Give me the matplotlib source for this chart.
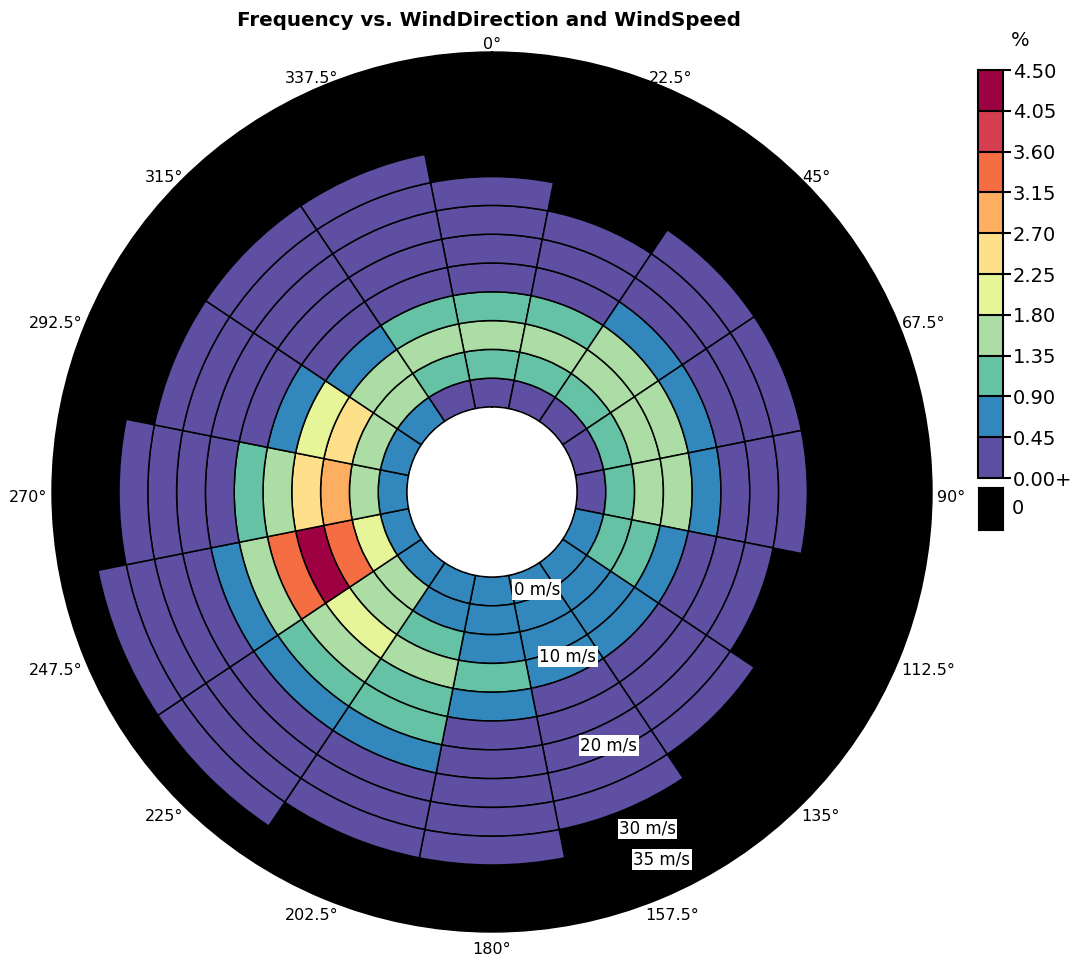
import numpy as np
import matplotlib
matplotlib.use("Agg")
import matplotlib.pyplot as plt
import matplotlib as mpl
from matplotlib.colors import ListedColormap, BoundaryNorm

plt.rcParams['font.family'] = ['DejaVu Sans']

# ---------------- data ----------------
directions = [0, 22.5, 45, 67.5, 90, 112.5, 135, 157.5,
              180, 202.5, 225, 247.5, 270, 292.5, 315, 337.5]
speed_step = 3.0  # m/s per ring

# frequency (%) per speed ring, from calm outwards, for each direction
freq_000 = [0.40, 1.05, 1.50, 1.00, 0.35, 0.20, 0.10, 0.04]
freq_022 = [0.38, 1.00, 1.45, 0.95, 0.30, 0.15, 0.05]
freq_045 = [0.40, 1.10, 1.55, 1.50, 0.70, 0.30, 0.12, 0.04]
freq_067 = [0.42, 1.15, 1.60, 1.55, 0.75, 0.35, 0.15, 0.05]
freq_090 = [0.40, 1.10, 1.55, 1.45, 0.70, 0.30, 0.12, 0.04]
freq_112 = [0.60, 1.00, 0.95, 0.60, 0.30, 0.12, 0.04]
freq_135 = [0.60, 0.70, 0.75, 0.55, 0.35, 0.20, 0.10, 0.04]
freq_157 = [0.60, 0.75, 0.80, 0.60, 0.40, 0.25, 0.15, 0.08, 0.03]
freq_180 = [0.60, 0.80, 0.85, 0.95, 0.70, 0.40, 0.25, 0.15, 0.08, 0.03]
freq_202 = [0.65, 0.85, 1.20, 1.50, 1.25, 1.00, 0.60, 0.30, 0.12, 0.04]
freq_225 = [0.70, 1.50, 1.75, 2.10, 1.60, 1.10, 0.65, 0.35, 0.20, 0.10, 0.04]
freq_247 = [0.80, 2.00, 3.40, 4.30, 3.30, 1.60, 0.70, 0.40, 0.20, 0.10, 0.04]
freq_270 = [0.80, 1.70, 2.90, 2.50, 1.60, 1.10, 0.40, 0.20, 0.10, 0.04]
freq_292 = [0.75, 1.60, 2.40, 2.00, 0.70, 0.35, 0.20, 0.10, 0.04]
freq_315 = [0.65, 1.50, 1.40, 0.65, 0.35, 0.20, 0.10, 0.06, 0.03]
freq_337 = [0.40, 1.00, 1.45, 1.00, 0.35, 0.20, 0.10, 0.05, 0.03]

freq_rows = [freq_000, freq_022, freq_045, freq_067, freq_090, freq_112,
             freq_135, freq_157, freq_180, freq_202, freq_225, freq_247,
             freq_270, freq_292, freq_315, freq_337]

level_bounds = [0.0, 0.45, 0.90, 1.35, 1.80, 2.25, 2.70, 3.15, 3.60, 4.05, 4.50]
level_labels = ['0.00+', '0.45', '0.90', '1.35', '1.80', '2.25',
                '2.70', '3.15', '3.60', '4.05', '4.50']
level_colors = ['#5E4FA2', '#3288BD', '#66C2A5', '#ABDDA4', '#E6F598',
                '#FEE08B', '#FDAE61', '#F46D43', '#D53E4F', '#9E0142']

direction_labels = [f"{d:g}°" for d in directions]
speed_label_values = [0, 10, 20, 30, 35]
speed_label_texts = ['0 m/s', '10 m/s', '20 m/s', '30 m/s', '35 m/s']
speed_label_shift = [2.3, 0.0, 0.2, -0.2, -1.7]

title = 'Frequency vs. WindDirection and WindSpeed'

# ---------------- figure ----------------
W, H = 1072, 960
fig = plt.figure(figsize=(W / 100, H / 100), dpi=100)
fig.patch.set_facecolor('white')

cx, cy, R = 492, 492, 440          # pixel centre / radius of the polar plot
px_per_unit = 9.6                 # pixels per m/s
hole = 85 / px_per_unit           # calm hole radius in m/s units
r_max = R / px_per_unit - hole

ax = fig.add_axes([(cx - R) / W, (H - cy - R) / H, 2 * R / W, 2 * R / H],
                  projection='polar')
ax.set_theta_zero_location('N')
ax.set_theta_direction(-1)
ax.set_rorigin(-hole)
ax.set_ylim(0, r_max)
ax.set_facecolor('black')
ax.grid(False)
ax.set_xticks([])
ax.set_yticks([])
for s in ax.spines.values():
    s.set_color('black')
    s.set_linewidth(1.0)

cmap = ListedColormap(level_colors)
norm = BoundaryNorm(level_bounds, cmap.N)
sector = np.deg2rad(22.5)

for d, vals in zip(directions, freq_rows):
    n = len(vals)
    bottoms = np.arange(n) * speed_step
    ax.bar(np.full(n, np.deg2rad(d)), np.full(n, speed_step), width=sector,
           bottom=bottoms, color=cmap(norm(vals)), edgecolor='black',
           linewidth=1.1, align='center')

# speed labels
for v, t, sh in zip(speed_label_values, speed_label_texts, speed_label_shift):
    ax.text(np.deg2rad(155.2), v + sh, t, ha='center', va='center',
            fontsize=12, color='black', clip_on=False, zorder=5,
            bbox=dict(boxstyle='square,pad=0.08', fc='white', ec='none'))

fig.text(489 / W, 1 - 20 / H, title, ha='center', va='center',
         fontsize=14.3, fontweight='bold')

# colour bar
cax = fig.add_axes([978 / W, (H - 478) / H, 25 / W, 408 / H])
cb = mpl.colorbar.ColorbarBase(cax, cmap=cmap, norm=norm,
                               boundaries=level_bounds, ticks=level_bounds,
                               drawedges=True, spacing='uniform')
cb.ax.set_yticklabels(level_labels)
cb.outline.set_linewidth(1.5)
cb.outline.set_edgecolor('black')
cb.dividers.set_linewidth(1.5)
cax.tick_params(length=6, width=1.5, labelsize=14, pad=1, colors='black')
fig.text(1020 / W, 1 - 41 / H, '%', ha='center', va='center', fontsize=14)

zax = fig.add_axes([978 / W, (H - 530) / H, 25 / W, 43 / H])
zax.set_facecolor('black')
zax.set_xticks([])
zax.set_yticks([])
fig.text(1012 / W, 1 - 508 / H, '0', ha='left', va='center', fontsize=14)

# direction labels, placed just outside the circle
fig.canvas.draw()
renderer = fig.canvas.get_renderer()
r_edge = 445 / px_per_unit - hole
for d, lab in zip(directions, direction_labels):
    th = np.deg2rad(d)
    t = ax.annotate(lab, xy=(th, r_edge), xytext=(0, 0),
                    textcoords='offset pixels', ha='center', va='center',
                    fontsize=11.5, annotation_clip=False)
    bb = t.get_window_extent(renderer)
    t.xyann = (0.5 * bb.width * np.sin(th),
               0.5 * bb.height * np.cos(th) - 5)

fig.savefig('out.png', dpi=100, facecolor='white')
